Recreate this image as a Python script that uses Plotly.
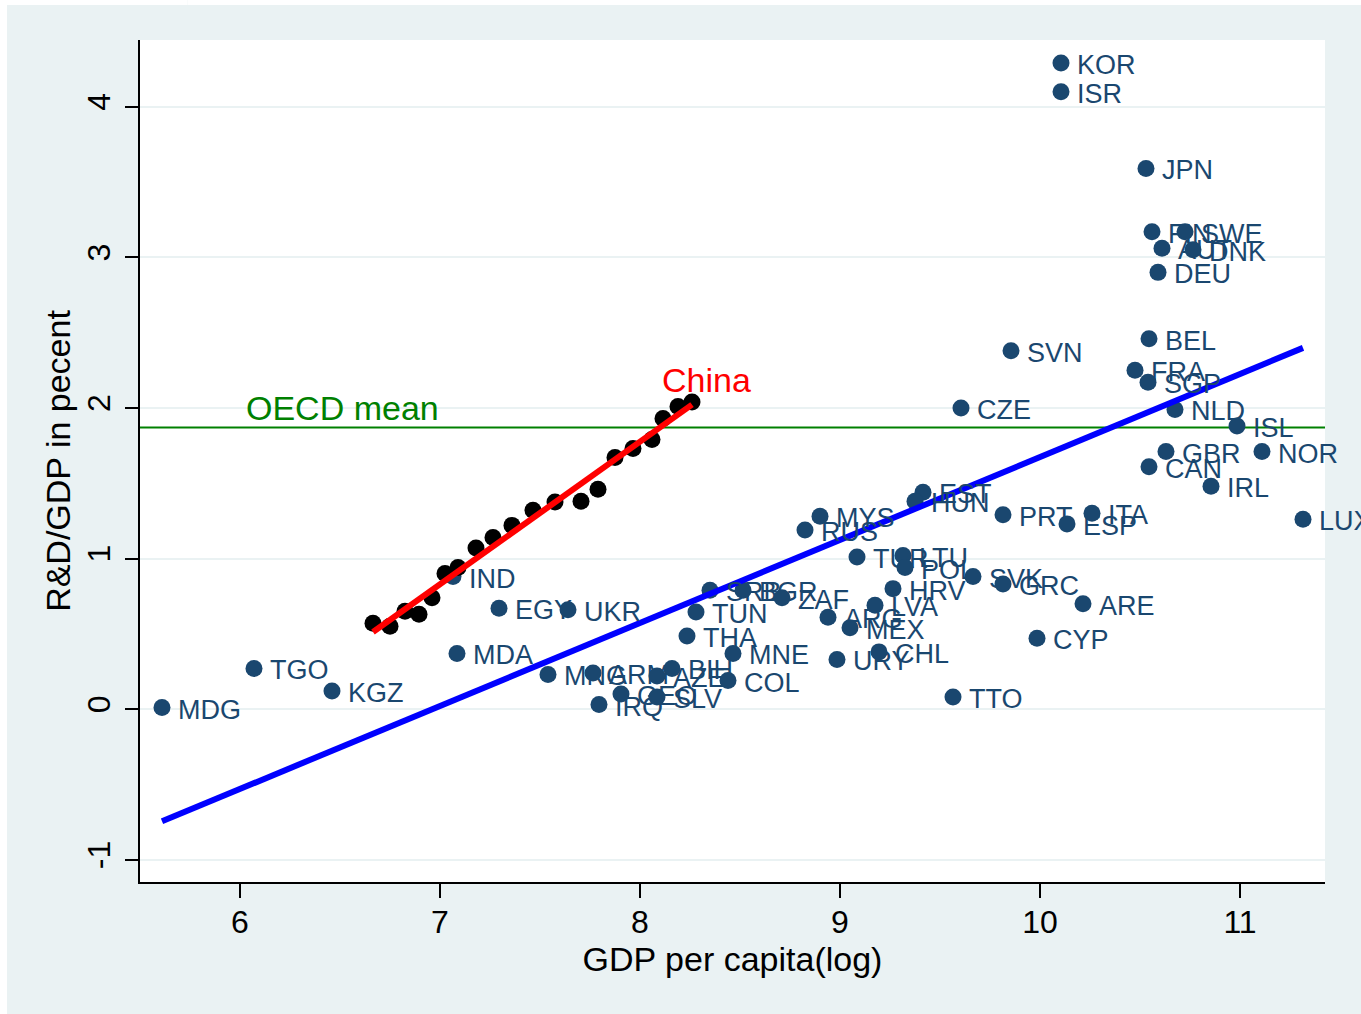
import numpy as np
import plotly.graph_objects as go

# Country cross-section: log GDP per capita vs R&D spending (% of GDP)
countries = [
    "KOR", "ISR", "JPN", "FIN", "SWE", "AUT", "DNK", "DEU", "BEL", "SVN",
    "FRA", "SGP", "CZE", "NLD", "ISL", "GBR", "NOR", "CAN", "IRL", "LUX",
    "EST", "HUN", "PRT", "ITA", "ESP", "MYS", "RUS", "TUR", "LTU", "POL",
    "SVK", "GRC", "HRV", "LVA", "ARG", "MEX", "ARE", "CYP", "URY", "CHL",
    "TTO", "ZAF", "BGR", "SRB", "TUN", "THA", "MNE", "COL", "BIH", "AZE",
    "SLV", "GEO", "IRQ", "ARM", "MNG", "UKR", "EGY", "IND", "MDA", "KGZ",
    "TGO", "MDG",
]
gdp_log = [
    10.105, 10.105, 10.53, 10.56, 10.725, 10.61, 10.765, 10.59, 10.545, 9.855,
    10.475, 10.54, 9.605, 10.675, 10.985, 10.63, 11.11, 10.545, 10.855, 11.315,
    9.415, 9.375, 9.815, 10.26, 10.135, 8.90, 8.825, 9.085, 9.315, 9.325,
    9.665, 9.815, 9.265, 9.175, 8.94, 9.05, 10.215, 9.985, 8.985, 9.195,
    9.565, 8.71, 8.515, 8.35, 8.28, 8.235, 8.465, 8.44, 8.16, 8.085,
    8.085, 7.905, 7.795, 7.765, 7.54, 7.64, 7.295, 7.065, 7.085, 6.46,
    6.07, 5.61,
]
rd_gdp = [
    4.29, 4.10, 3.59, 3.17, 3.17, 3.06, 3.05, 2.90, 2.46, 2.38,
    2.25, 2.17, 2.00, 1.99, 1.88, 1.71, 1.71, 1.61, 1.48, 1.26,
    1.44, 1.38, 1.29, 1.30, 1.23, 1.28, 1.19, 1.01, 1.02, 0.94,
    0.88, 0.83, 0.80, 0.69, 0.61, 0.54, 0.70, 0.47, 0.33, 0.38,
    0.08, 0.74, 0.79, 0.79, 0.645, 0.485, 0.37, 0.19, 0.27, 0.22,
    0.08, 0.10, 0.03, 0.24, 0.23, 0.66, 0.67, 0.88, 0.37, 0.12,
    0.27, 0.01,
]

# China over time
china_gdp_log = [
    6.665, 6.75, 6.825, 6.895, 6.96, 7.025, 7.09, 7.18, 7.265, 7.36,
    7.465, 7.575, 7.705, 7.79, 7.875, 7.965, 8.06, 8.115, 8.19, 8.26,
]
china_rd_gdp = [
    0.57, 0.55, 0.65, 0.63, 0.74, 0.90, 0.94, 1.07, 1.14, 1.22,
    1.32, 1.375, 1.38, 1.46, 1.67, 1.73, 1.79, 1.93, 2.01, 2.04,
]

oecd_mean = 1.87

x_ticks = [6, 7, 8, 9, 10, 11]
y_ticks = [-1, 0, 1, 2, 3, 4]

NAVY = "#1a476f"
BG = "#eaf2f3"
FONT = "Liberation Sans, Arial, sans-serif"

# Linear fits
xc = np.array(gdp_log)
yc = np.array(rd_gdp)
b_all, a_all = np.polyfit(xc, yc, 1)
fit_x = np.array([xc.min(), xc.max()])
fit_y = a_all + b_all * fit_x

xch = np.array(china_gdp_log)
ych = np.array(china_rd_gdp)
b_ch, a_ch = np.polyfit(xch, ych, 1)
ch_fit_x = np.array([xch.min(), xch.max()])
ch_fit_y = a_ch + b_ch * ch_fit_x

fig = go.Figure()

fig.add_trace(go.Scatter(
    x=gdp_log, y=rd_gdp, mode="markers",
    marker=dict(size=17, color=NAVY, line=dict(width=0)),
    hoverinfo="text", text=countries, showlegend=False,
))
fig.add_trace(go.Scatter(
    x=fit_x, y=fit_y, mode="lines",
    line=dict(color="#0000ff", width=6), showlegend=False,
))
fig.add_trace(go.Scatter(
    x=china_gdp_log, y=china_rd_gdp, mode="markers",
    marker=dict(size=17, color="black", line=dict(width=0)),
    showlegend=False,
))
fig.add_trace(go.Scatter(
    x=ch_fit_x, y=ch_fit_y, mode="lines",
    line=dict(color="#ff0000", width=6), showlegend=False,
))

# Country labels to the right of each marker
annotations = []
for name, gx, ry in zip(countries, gdp_log, rd_gdp):
    annotations.append(dict(
        x=gx, y=ry, xref="x", yref="y", text=name, showarrow=False,
        xanchor="left", yanchor="middle", xshift=14, yshift=-2,
        font=dict(family=FONT, size=27, color=NAVY),
    ))

annotations.append(dict(
    x=china_gdp_log[-1], y=china_rd_gdp[-1], xref="x", yref="y",
    text="China", showarrow=False, xanchor="center", yanchor="middle",
    xshift=14, yshift=22, font=dict(family=FONT, size=34, color="#ff0000"),
))
annotations.append(dict(
    x=0, y=oecd_mean, xref="paper", yref="y", text="OECD mean",
    showarrow=False, xanchor="left", yanchor="middle", xshift=104, yshift=19,
    font=dict(family=FONT, size=34, color="#008000"),
))

shapes = [
    # OECD mean reference line
    dict(type="line", xref="paper", yref="y", x0=0, x1=1, y0=oecd_mean, y1=oecd_mean,
         line=dict(color="#008000", width=2), layer="below"),
    # thin white border around the graph region
    dict(type="rect", xref="paper", yref="paper", x0=-0.1182, x1=-0.1122, y0=-0.2, y1=1.06,
         fillcolor="white", line=dict(width=0), layer="below"),
    dict(type="rect", xref="paper", yref="paper", x0=-0.13, x1=0.04, y0=1.0416, y1=1.06,
         fillcolor="white", line=dict(width=0), layer="below"),
    dict(type="rect", xref="paper", yref="paper", x0=0.04, x1=1.05, y0=1.0416, y1=1.06,
         fillcolor="white", line=dict(width=0), layer="below"),
]

fig.update_layout(
    width=1361, height=1014,
    margin=dict(l=140, r=36, t=40, b=132, pad=0),
    paper_bgcolor=BG, plot_bgcolor="white",
    font=dict(family=FONT, color="black"),
    annotations=annotations, shapes=shapes,
    xaxis=dict(
        range=[5.5, 11.425], tickvals=x_ticks, ticktext=[str(t) for t in x_ticks],
        showgrid=False, zeroline=False, showline=True, linecolor="black", linewidth=2,
        ticks="outside", ticklen=14, tickwidth=2, tickcolor="black",
        ticklabelstandoff=-3,
        tickfont=dict(family=FONT, size=32, color="black"),
        title=dict(text="GDP per capita(log)", font=dict(family=FONT, size=34, color="black"),
                   standoff=3),
    ),
    yaxis=dict(
        range=[-1.148, 4.443], tickvals=y_ticks, ticktext=[str(t) for t in y_ticks],
        showgrid=True, gridcolor=BG, gridwidth=2, zeroline=False,
        showline=True, linecolor="black", linewidth=2,
        ticks="outside", ticklen=13, tickwidth=2, tickcolor="black", tickangle=-90,
        ticklabelstandoff=2,
        tickfont=dict(family=FONT, size=32, color="black"),
        title=dict(text="R&D/GDP in pecent", font=dict(family=FONT, size=34, color="black"),
                   standoff=0),
    ),
)

fig.write_html("out.html")
